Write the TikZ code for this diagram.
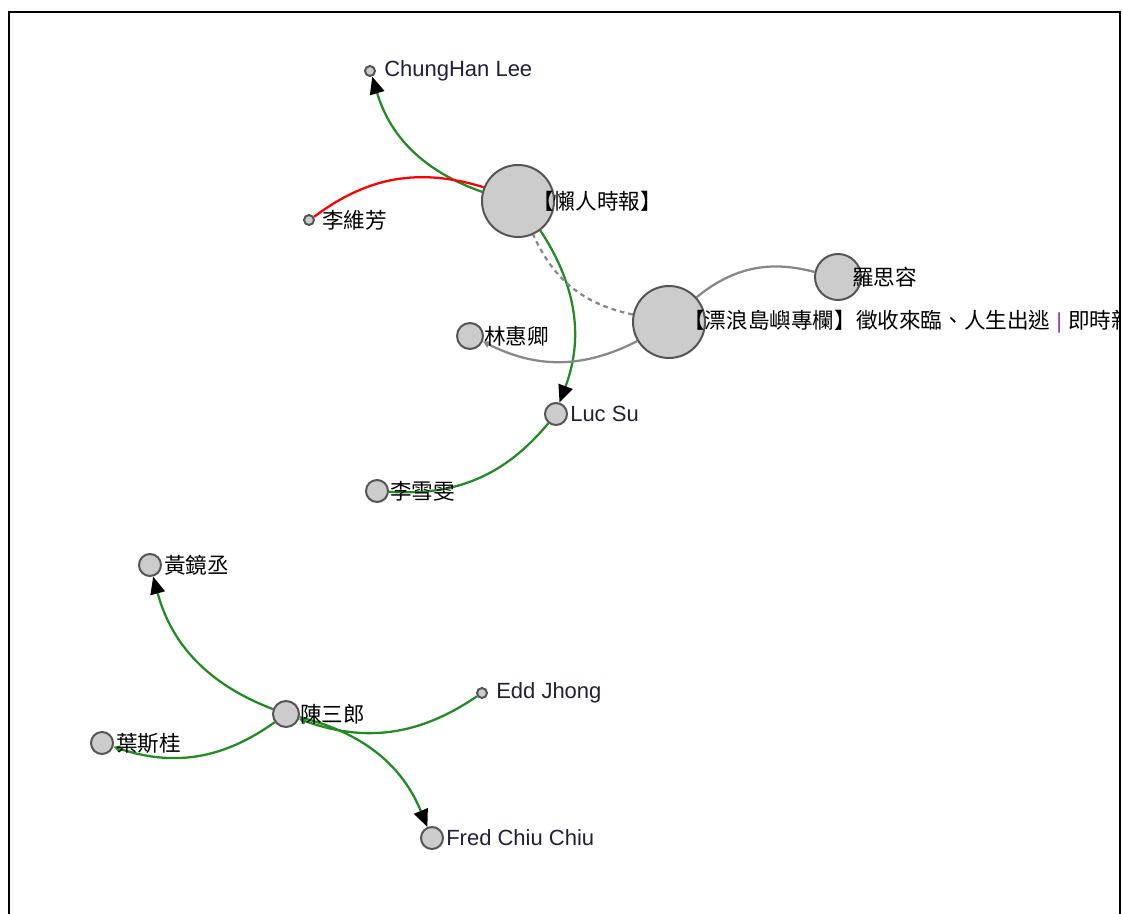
\documentclass[tikz,border=0pt]{standalone}
\usepackage{fontspec}
\setmainfont{Liberation Sans}
\newfontfamily\cjk{Noto Sans CJK TC}
\usetikzlibrary{arrows.meta}
\pgfdeclarelayer{bg}
\pgfsetlayers{bg,main}
\definecolor{edgegreen}{RGB}{34,139,34}
\definecolor{edgered}{RGB}{255,0,0}
\definecolor{edgegray}{RGB}{136,136,136}
\definecolor{nodefill}{RGB}{204,204,204}
\definecolor{nodeline}{RGB}{85,85,85}
\definecolor{txt}{RGB}{35,30,60}
\definecolor{barcol}{RGB}{150,60,170}
\begin{document}
\begin{tikzpicture}[x=0.75pt,y=-0.75pt,
  nd/.style={circle,draw=nodeline,fill=nodefill,line width=1.5pt,inner sep=0pt,minimum size=#1},
  lbl/.style={anchor=west,inner sep=0pt,font=\fontsize{16.5pt}{18pt}\selectfont,text=txt},
  clbl/.style={anchor=west,inner sep=0pt,font=\cjk\fontsize{16.2pt}{18pt}\selectfont,text=black},
  ed/.style={line width=1.7pt,bend left=27},
  green/.style={ed,draw=edgegreen},
  grayed/.style={ed,draw=edgegray},
  bigtip/.style={-{Triangle[length=13pt,width=11pt,color=black]}},
  smalltip/.style={-{Triangle[length=5pt,width=5pt]}}
]
\useasboundingbox (0,0) rectangle (1123,913);
\begin{pgfonlayer}{bg}
\fill[white] (0,0) rectangle (1123,913);
\end{pgfonlayer}

% nodes (circles)
\node[nd=7.5pt]  (chung)  at (370,71)  {};
\node[nd=7.5pt]  (liwf)   at (309,220) {};
\node[nd=54pt]   (lanren) at (518,201) {};
\node[nd=34.5pt] (luo)    at (838,277) {};
\node[nd=54pt]   (piao)   at (669,322) {};
\node[nd=19.5pt] (lin)    at (470,336) {};
\node[nd=16.5pt] (lucsu)  at (556,414) {};
\node[nd=16.5pt] (lixw)   at (377,491) {};
\node[nd=16.5pt] (huang)  at (150,565) {};
\node[nd=19.5pt] (chen)   at (286,714) {};
\node[nd=7.5pt]  (edd)    at (482,693) {};
\node[nd=16.5pt] (ye)     at (102,743) {};
\node[nd=16.5pt] (fred)   at (432,838) {};

% edges (behind the circles)
\begin{pgfonlayer}{bg}
\draw[green,bigtip] (lanren) to (chung);
\draw[ed,draw=edgered] (liwf) to (lanren);
\draw[green,bigtip] (lanren) to (lucsu);
\draw[grayed,dash pattern=on 3.5pt off 3pt] (piao) to (lanren);
\draw[grayed] (piao) to (luo);
\draw[grayed,smalltip] (piao) to (lin);
\draw[green] (lucsu) to (lixw);
\draw[green,bigtip] (chen) to (huang);
\draw[green,smalltip] (chen) to (ye);
\draw[green,smalltip] (edd) to (chen);
\draw[green,bigtip] (chen) to (fred);
\end{pgfonlayer}

% labels
\begin{scope}
\clip (9,12) rectangle (1120,913);
\node[lbl]  (chung-l)  at (384,71)  {ChungHan Lee};
\node[clbl] (liwf-l)   at (322,220) {李維芳};
\node[clbl] (lanren-l) at (532,201) {【懶人時報】};
\node[clbl] (luo-l)    at (852,277) {羅思容};
\node[clbl] (piao-l)   at (683,322) {【漂浪島嶼專欄】徵收來臨、人生出逃{\rmfamily\ \textcolor{barcol}{|}\ }即時新聞};
\node[clbl] (lin-l)    at (484,336) {林惠卿};
\node[lbl]  (lucsu-l)  at (570,414) {Luc Su};
\node[clbl] (lixw-l)   at (390,491) {李雪雯};
\node[clbl] (huang-l)  at (164,565) {黃鏡丞};
\node[clbl] (chen-l)   at (300,714) {陳三郎};
\node[lbl]  (edd-l)    at (496,693) {Edd Jhong};
\node[clbl] (ye-l)     at (116,743) {葉斯桂};
\node[lbl]  (fred-l)   at (446,838) {Fred Chiu Chiu};
\end{scope}

% frame
\draw[line width=1.5pt,line cap=rect] (9,913) -- (9,12) -- (1120,12) -- (1120,913);
\end{tikzpicture}
\end{document}
